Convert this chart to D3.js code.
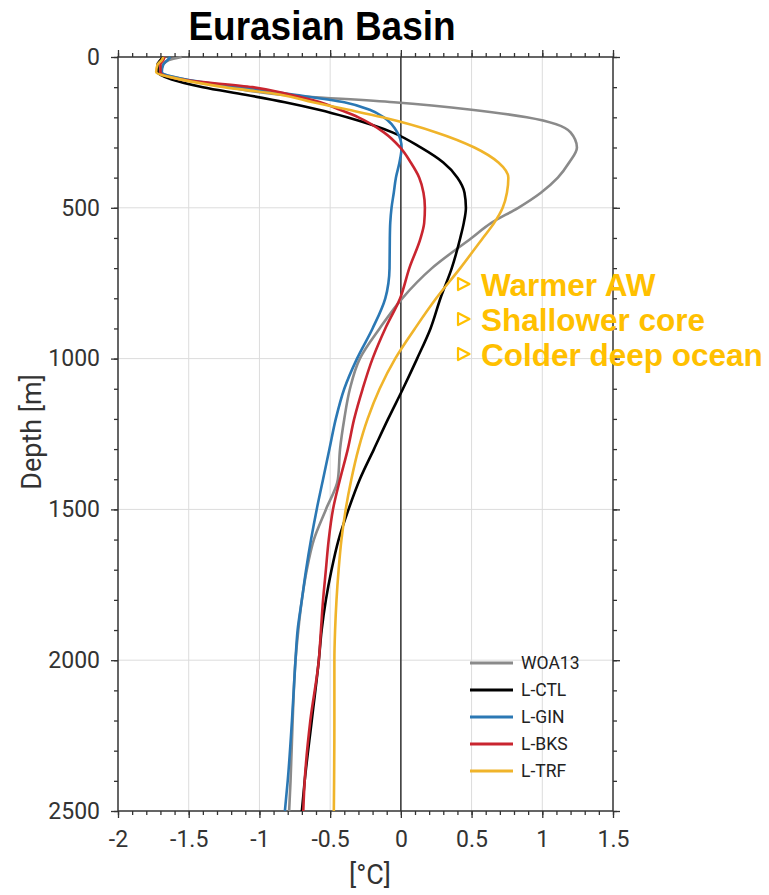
<!DOCTYPE html>
<html>
<head>
<meta charset="utf-8">
<script src="https://cdn.jsdelivr.net/npm/d3@7"></script>
<style>
  body { margin: 0; background: #fff; }
  svg { display: block; }
  text { font-family: Roboto, "Liberation Sans", sans-serif; }
</style>
</head>
<body>
<div id="chart"></div>
<script>
// depth levels [m] and temperature profiles [°C]
var depth = [0, 10, 25, 50, 75, 100, 125, 150, 175, 200, 250, 300, 350, 400, 450, 500, 550, 600, 700, 800, 900, 1000, 1100, 1200, 1300, 1400, 1500, 1600, 1700, 1800, 1900, 2000, 2200, 2400, 2500];
var woa13 = [-1.55, -1.64, -1.68, -1.70, -1.52, -1.22, -0.85, -0.05, 0.50, 0.89, 1.20, 1.245, 1.19, 1.11, 0.99, 0.83, 0.64, 0.50, 0.22, 0.01, -0.15, -0.29, -0.36, -0.40, -0.43, -0.445, -0.53, -0.615, -0.665, -0.70, -0.725, -0.745, -0.765, -0.78, -0.79];
var lctl  = [-1.68, -1.70, -1.72, -1.72, -1.62, -1.40, -1.10, -0.82, -0.58, -0.38, -0.06, 0.14, 0.30, 0.40, 0.45, 0.46, 0.445, 0.42, 0.36, 0.28, 0.21, 0.115, 0.015, -0.09, -0.19, -0.29, -0.37, -0.44, -0.49, -0.53, -0.56, -0.58, -0.63, -0.68, -0.70];
var lgin  = [-1.63, -1.65, -1.68, -1.69, -1.52, -1.15, -0.75, -0.40, -0.22, -0.12, -0.025, 0.005, -0.01, -0.035, -0.05, -0.066, -0.075, -0.078, -0.08, -0.11, -0.20, -0.31, -0.40, -0.46, -0.505, -0.55, -0.595, -0.635, -0.67, -0.70, -0.73, -0.745, -0.77, -0.80, -0.82];
var lbks  = [-1.67, -1.68, -1.70, -1.70, -1.55, -1.05, -0.78, -0.57, -0.43, -0.30, -0.12, -0.005, 0.07, 0.13, 0.16, 0.17, 0.165, 0.14, 0.06, -0.005, -0.11, -0.20, -0.27, -0.33, -0.375, -0.43, -0.48, -0.51, -0.53, -0.55, -0.565, -0.58, -0.64, -0.68, -0.69];
var ltrf  = [-1.68, -1.69, -1.72, -1.73, -1.55, -1.25, -0.85, -0.62, -0.37, -0.13, 0.25, 0.52, 0.69, 0.76, 0.75, 0.72, 0.66, 0.58, 0.42, 0.25, 0.10, -0.04, -0.15, -0.235, -0.30, -0.35, -0.39, -0.42, -0.44, -0.455, -0.465, -0.47, -0.47, -0.472, -0.474];

var seriesNames = ["WOA13", "L-CTL", "L-GIN", "L-BKS", "L-TRF"];
var seriesColors = ["#8a8a8a", "#000000", "#2b78b4", "#c9252f", "#f0b42a"];
var xTicks = [-2, -1.5, -1, -0.5, 0, 0.5, 1, 1.5];
var yTicks = [0, 500, 1000, 1500, 2000, 2500];
var notes = ["Warmer AW", "Shallower core", "Colder deep ocean"];

var W = 769, H = 895;
var svg = d3.select("#chart").append("svg").attr("width", W).attr("height", H);

var x = d3.scaleLinear().domain([-2, 1.5]).range([118, 613]);
var y = d3.scaleLinear().domain([0, 2500]).range([57, 811]);

// grid
svg.append("g").selectAll("line").data(xTicks.slice(1, -1)).enter().append("line")
  .attr("x1", function(d) { return x(d); }).attr("x2", function(d) { return x(d); })
  .attr("y1", y(0)).attr("y2", y(2500))
  .attr("stroke", "#dcdcdc").attr("stroke-width", 1);
svg.append("g").selectAll("line").data(yTicks.slice(1, -1)).enter().append("line")
  .attr("y1", function(d) { return y(d); }).attr("y2", function(d) { return y(d); })
  .attr("x1", x(-2)).attr("x2", x(1.5))
  .attr("stroke", "#dcdcdc").attr("stroke-width", 1);

// zero line
svg.append("line")
  .attr("x1", x(0)).attr("x2", x(0)).attr("y1", y(0)).attr("y2", y(2500))
  .attr("stroke", "#333").attr("stroke-width", 1.5);

// axes
var xMinor = d3.range(-20, 16).map(function(i) { return i / 10; });
var yMinor = d3.range(0, 2501, 100);
var fmt = function(d) { return String(d); };

function styleAxis(g) {
  g.select(".domain").remove();
  g.selectAll("line").attr("stroke", "#333").attr("stroke-width", 1.3);
  g.selectAll("text").attr("fill", "#333").style("font-size", "23px");
}

svg.append("g").attr("transform", "translate(0," + y(2500) + ")")
  .call(d3.axisBottom(x).tickValues(xMinor).tickSize(4).tickFormat("")).call(styleAxis);
svg.append("g").attr("transform", "translate(0," + y(2500) + ")")
  .call(d3.axisBottom(x).tickValues(xTicks).tickSize(7).tickPadding(13).tickFormat(fmt)).call(styleAxis);
svg.append("g").attr("transform", "translate(0," + y(0) + ")")
  .call(d3.axisTop(x).tickValues(xMinor).tickSize(4).tickFormat("")).call(styleAxis);
svg.append("g").attr("transform", "translate(0," + y(0) + ")")
  .call(d3.axisTop(x).tickValues(xTicks).tickSize(7).tickFormat("")).call(styleAxis);

svg.append("g").attr("transform", "translate(" + x(-2) + ",0)")
  .call(d3.axisLeft(y).tickValues(yMinor).tickSize(4).tickFormat("")).call(styleAxis);
svg.append("g").attr("transform", "translate(" + x(-2) + ",0)")
  .call(d3.axisLeft(y).tickValues(yTicks).tickSize(7).tickPadding(11).tickFormat(fmt)).call(styleAxis);
svg.append("g").attr("transform", "translate(" + x(1.5) + ",0)")
  .call(d3.axisRight(y).tickValues(yMinor).tickSize(4).tickFormat("")).call(styleAxis);
svg.append("g").attr("transform", "translate(" + x(1.5) + ",0)")
  .call(d3.axisRight(y).tickValues(yTicks).tickSize(7).tickFormat("")).call(styleAxis);

// frame
svg.append("rect")
  .attr("x", x(-2)).attr("y", y(0))
  .attr("width", x(1.5) - x(-2)).attr("height", y(2500) - y(0))
  .attr("fill", "none").attr("stroke", "#333").attr("stroke-width", 1.5);

// profiles
var profiles = [woa13, lctl, lgin, lbks, ltrf];
var line = d3.line()
  .x(function(d) { return x(d[0]); })
  .y(function(d) { return y(d[1]); })
  .curve(d3.curveMonotoneY);

svg.append("g").selectAll("path").data(profiles).enter().append("path")
  .attr("d", function(p) { return line(p.map(function(t, i) { return [t, depth[i]]; })); })
  .attr("fill", "none")
  .attr("stroke", function(p, i) { return seriesColors[i]; })
  .attr("stroke-width", 2.6)
  .attr("stroke-linejoin", "round");

// legend
var legend = svg.append("g").selectAll("g").data(seriesNames).enter().append("g")
  .attr("transform", function(d, i) { return "translate(470," + (663 + i * 27) + ")"; });
legend.append("line")
  .attr("x1", 0).attr("x2", 43)
  .attr("stroke", function(d, i) { return seriesColors[i]; })
  .attr("stroke-width", 3);
legend.append("text")
  .attr("x", 51).attr("dy", "0.36em")
  .style("font-size", "17.5px").attr("fill", "#222")
  .text(function(d) { return d; });

// axis titles
svg.append("text")
  .attr("transform", "translate(41,432) rotate(-90)")
  .attr("text-anchor", "middle").style("font-size", "27px").attr("fill", "#333")
  .text("Depth [m]");
svg.append("text")
  .attr("x", 370).attr("y", 884)
  .attr("text-anchor", "middle").style("font-size", "27px").attr("fill", "#333")
  .text("[°C]");

// title
svg.append("text")
  .attr("transform", "translate(322,40) scale(1,1.12)")
  .attr("text-anchor", "middle")
  .style("font-family", "'Liberation Sans', Arial, sans-serif")
  .style("font-weight", "bold").style("font-size", "37px")
  .text("Eurasian Basin");

// annotation
var note = svg.append("g").selectAll("g").data(notes).enter().append("g")
  .attr("transform", function(d, i) { return "translate(463," + (284 + i * 35) + ")"; });
note.append("path")
  .attr("d", "M-5,-6 L6.5,0 L-5,6 Z")
  .attr("fill", "none").attr("stroke", "#ffc000").attr("stroke-width", 2.2)
  .attr("stroke-linejoin", "round");
note.append("text")
  .attr("x", 18).attr("y", 12)
  .style("font-family", "'Liberation Sans', Arial, sans-serif")
  .style("font-weight", "bold").style("font-size", "31.5px")
  .attr("fill", "#ffc000")
  .text(function(d) { return d; });
</script>
</body>
</html>
